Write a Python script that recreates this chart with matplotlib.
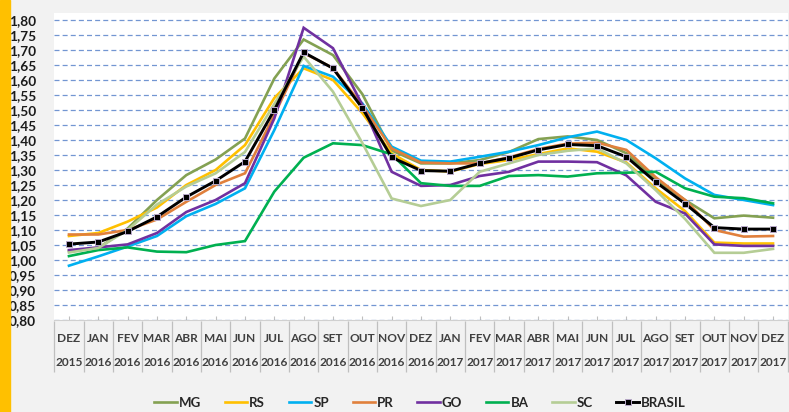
import numpy as np
import matplotlib
matplotlib.use("Agg")
import matplotlib.pyplot as plt
from matplotlib.patches import Rectangle
from matplotlib.ticker import FuncFormatter

plt.rcParams['font.family'] = ['Lato', 'DejaVu Sans']
plt.rcParams['font.weight'] = 'bold'

# categorias (mes / ano)
meses = ["DEZ", "JAN", "FEV", "MAR", "ABR", "MAI", "JUN", "JUL", "AGO", "SET", "OUT", "NOV",
         "DEZ", "JAN", "FEV", "MAR", "ABR", "MAI", "JUN", "JUL", "AGO", "SET", "OUT", "NOV", "DEZ"]
anos = ["2015"] + ["2016"] * 12 + ["2017"] * 12

# series
MG = [1.030, 1.040, 1.105, 1.200, 1.283, 1.335, 1.405, 1.605, 1.735, 1.683, 1.553, 1.365,
      1.322, 1.322, 1.333, 1.360, 1.403, 1.412, 1.400, 1.356, 1.268, 1.200, 1.139, 1.148, 1.141]
RS = [1.080, 1.090, 1.128, 1.175, 1.250, 1.300, 1.383, 1.540, 1.639, 1.600, 1.490, 1.355,
      1.300, 1.295, 1.320, 1.333, 1.353, 1.372, 1.361, 1.325, 1.239, 1.163, 1.058, 1.055, 1.055]
SP = [0.981, 1.012, 1.045, 1.080, 1.146, 1.187, 1.239, 1.433, 1.647, 1.611, 1.522, 1.378,
      1.331, 1.328, 1.344, 1.361, 1.383, 1.409, 1.428, 1.400, 1.339, 1.272, 1.217, 1.200, 1.183]
PR = [1.085, 1.085, 1.100, 1.135, 1.194, 1.250, 1.289, 1.483, 1.690, 1.640, 1.515, 1.372,
      1.325, 1.322, 1.322, 1.342, 1.370, 1.388, 1.391, 1.367, 1.276, 1.200, 1.100, 1.078, 1.080]
GO = [1.033, 1.042, 1.052, 1.090, 1.160, 1.200, 1.256, 1.472, 1.774, 1.706, 1.517, 1.294,
      1.247, 1.250, 1.280, 1.294, 1.328, 1.328, 1.326, 1.282, 1.194, 1.155, 1.052, 1.047, 1.047]
BA = [1.013, 1.033, 1.042, 1.028, 1.026, 1.050, 1.063, 1.228, 1.341, 1.389, 1.383, 1.352,
      1.256, 1.247, 1.247, 1.280, 1.283, 1.278, 1.289, 1.291, 1.294, 1.239, 1.211, 1.206, 1.189]
SC = [1.025, 1.040, 1.100, 1.185, 1.245, 1.289, 1.360, 1.520, 1.678, 1.561, 1.390, 1.205,
      1.180, 1.200, 1.294, 1.322, 1.350, 1.364, 1.372, 1.322, 1.233, 1.137, 1.024, 1.024, 1.037]
BRASIL = [1.053, 1.060, 1.095, 1.144, 1.210, 1.264, 1.328, 1.500, 1.692, 1.639, 1.506, 1.342,
          1.298, 1.296, 1.322, 1.340, 1.367, 1.385, 1.381, 1.344, 1.260, 1.188, 1.108, 1.103, 1.103]

series = [("MG", MG, "#84a152"), ("RS", RS, "#ffc000"), ("SP", SP, "#00b0f0"),
          ("PR", PR, "#e0803c"), ("GO", GO, "#7030a0"), ("BA", BA, "#00b050"),
          ("SC", SC, "#b5cd95")]

W, H = 789, 412
fig = plt.figure(figsize=(W / 100, H / 100), dpi=100, facecolor="#f2f2f2")
fig.patches.append(Rectangle((0, 0), 10 / W, 1, transform=fig.transFigure,
                             color="#ffc000", zorder=0))

ax = fig.add_axes([54.3 / W, 1 - 320 / H, (787.7 - 54.3) / W, (320 - 13) / H])
ax.set_facecolor("white")

x = np.arange(len(meses))
for nome, vals, cor in series:
    ax.plot(x, vals, color=cor, lw=1.9, label=nome, solid_joinstyle="miter")
ax.plot(x, BRASIL, color="black", lw=2.1, marker="s", ms=4.6, mfc="black",
        mec="#b8a9c9", mew=0.7, label="BRASIL")

ax.set_xlim(-0.5, len(meses) - 0.5)
ax.set_ylim(0.80, 1.8233)
ax.set_yticks(np.arange(0.80, 1.801, 0.05))
ax.yaxis.set_major_formatter(FuncFormatter(lambda v, p: f"{v:.2f}".replace(".", ",")))
ax.yaxis.grid(True, color="#7396d2", lw=0.9, linestyle=(0, (4, 2.5)))
ax.set_axisbelow(True)
ax.tick_params(axis="y", length=0, pad=13, labelsize=9.8, labelcolor="#1a1a1a")

ax.set_xticks(x)
ax.set_xticklabels([])
ax.tick_params(axis="x", direction="in", length=3, color="#bfbfbf", width=0.8)
for s in ["top", "right", "left"]:
    ax.spines[s].set_visible(False)
ax.spines["bottom"].set_color("#d0d0d0")
ax.spines["bottom"].set_linewidth(0.8)

trans = ax.get_xaxis_transform()
hpx = 320 - 13
ax.vlines(np.arange(len(meses) + 1) - 0.5, -52 / hpx, -1 / hpx, transform=trans,
          color="#bfbfbf", lw=0.9, clip_on=False)
for i, (m, a) in enumerate(zip(meses, anos)):
    ax.text(i, -18 / hpx, m, transform=trans, ha="center", va="center",
            fontsize=8.6, color="#404040")
    ax.text(i, -43 / hpx, a, transform=trans, ha="center", va="center",
            fontsize=8.6, color="#404040")

fig.legend(loc="center", bbox_to_anchor=(420 / W, 1 - 403 / H), ncol=8, frameon=False,
           fontsize=9.5, handlelength=1.7, handletextpad=0.15, columnspacing=1.8,
           labelcolor="#262626")

fig.savefig("out.png", dpi=100, facecolor=fig.get_facecolor())
